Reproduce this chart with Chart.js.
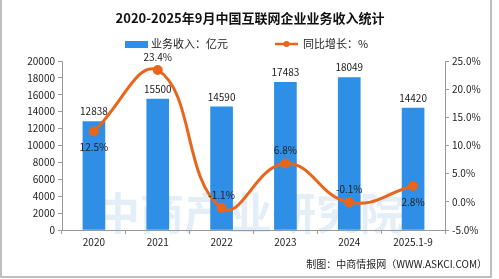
<!DOCTYPE html>
<html>
<head>
<meta charset="utf-8">
<script src="https://cdn.jsdelivr.net/npm/chart.js@4"></script>
<style>
  body { margin: 0; background: #fff; }
  canvas { display: block; }
</style>
</head>
<body>
<canvas id="c" width="499" height="279"></canvas>
<script>
// 数据
const years = ["2020", "2021", "2022", "2023", "2024", "2025.1-9"];
const revenue = [12838, 15500, 14590, 17483, 18049, 14420];
const growth = [12.5, 23.4, -1.1, 6.8, -0.1, 2.8];
const growthBelow = [true, false, false, false, false, true];

const cnFont = "'Noto Sans CJK SC', 'DejaVu Sans', sans-serif";
const blue = "#2f8ee6";
const orange = "#e8661c";

const extras = {
  id: "extras",
  beforeDatasetsDraw(chart) {
    const ctx = chart.ctx;
    ctx.save();
    // watermark
    ctx.fillStyle = "rgba(120,170,215,0.2)";
    ctx.font = "bold 44px " + cnFont;
    ctx.textAlign = "center";
    ctx.textBaseline = "middle";
    ctx.fillText("中商产业研究院", 250, 213);
    ctx.restore();
  },
  afterDatasetsDraw(chart) {
    const ctx = chart.ctx;
    ctx.save();
    ctx.fillStyle = "#222";
    ctx.font = "10px " + cnFont;
    ctx.textAlign = "center";
    const bars = chart.getDatasetMeta(0).data;
    bars.forEach((b, i) => {
      ctx.textBaseline = "bottom";
      ctx.fillText(String(revenue[i]), b.x, b.y - 5);
    });
    const pts = chart.getDatasetMeta(1).data;
    pts.forEach((p, i) => {
      ctx.textBaseline = "middle";
      const dy = growthBelow[i] ? 16 : -13;
      ctx.fillText(growth[i].toFixed(1) + "%", p.x, p.y + dy);
    });
    ctx.restore();
  },
  afterDraw(chart) {
    const ctx = chart.ctx;
    ctx.save();
    // title
    ctx.fillStyle = "#111";
    ctx.font = "bold 13px " + cnFont;
    ctx.textAlign = "center";
    ctx.textBaseline = "middle";
    ctx.fillText("2020-2025年9月中国互联网企业业务收入统计", 250, 18);
    // legend
    ctx.font = "11px " + cnFont;
    ctx.textAlign = "left";
    ctx.fillStyle = blue;
    ctx.fillRect(125, 41, 23, 7);
    ctx.fillStyle = "#222";
    ctx.fillText("业务收入：亿元", 151, 44);
    ctx.strokeStyle = orange;
    ctx.lineWidth = 2.5;
    ctx.beginPath();
    ctx.moveTo(275, 44);
    ctx.lineTo(298, 44);
    ctx.stroke();
    ctx.fillStyle = orange;
    ctx.beginPath();
    ctx.arc(286.5, 44, 3, 0, Math.PI * 2);
    ctx.fill();
    ctx.fillStyle = "#222";
    ctx.fillText("同比增长：%", 303, 44);
    // source
    ctx.font = "10px " + cnFont;
    ctx.textAlign = "right";
    ctx.fillText("制图：中商情报网（WWW.ASKCI.COM）", 487, 264);
    // frame
    ctx.strokeStyle = "#aaa";
    ctx.lineWidth = 1.5;
    ctx.strokeRect(1, -2, 490, 279);
    ctx.restore();
  }
};

new Chart(document.getElementById("c"), {
  data: {
    labels: years,
    datasets: [
      {
        type: "bar",
        label: "业务收入：亿元",
        data: revenue,
        backgroundColor: blue,
        yAxisID: "y",
        barThickness: 22,
        order: 2
      },
      {
        type: "line",
        label: "同比增长：%",
        data: growth,
        borderColor: orange,
        backgroundColor: orange,
        borderWidth: 3,
        pointRadius: 3.5,
        pointHoverRadius: 3.5,
        tension: 0.45,
        yAxisID: "y1",
        order: 1
      }
    ]
  },
  plugins: [extras],
  options: {
    responsive: false,
    animation: false,
    layout: { padding: { top: 61, left: 0, right: 0, bottom: 0 } },
    plugins: {
      legend: { display: false },
      title: { display: false },
      tooltip: { enabled: false }
    },
    scales: {
      x: {
        offset: true,
        grid: { display: true, drawOnChartArea: false, offset: true, tickLength: 4, color: "#999" },
        border: { color: "#999" },
        ticks: { color: "#222", font: { size: 10, family: cnFont }, maxRotation: 0, padding: 2 },
        afterFit(s) { s.height = 49; }
      },
      y: {
        position: "left",
        min: 0,
        max: 20000,
        grid: { display: true, drawOnChartArea: false, tickLength: 4, color: "#999" },
        border: { color: "#999" },
        ticks: {
          stepSize: 2000,
          color: "#222",
          font: { size: 10, family: cnFont },
          padding: 3,
          callback: v => String(v)
        },
        afterFit(s) { s.width = 62; }
      },
      y1: {
        position: "right",
        min: -5,
        max: 25,
        grid: { display: true, drawOnChartArea: false, tickLength: 4, color: "#999" },
        border: { color: "#999" },
        ticks: {
          stepSize: 5,
          color: "#222",
          font: { size: 10, family: cnFont },
          padding: 3,
          callback: v => v.toFixed(1) + "%"
        },
        afterFit(s) { s.width = 54; }
      }
    }
  }
});
</script>
</body>
</html>
